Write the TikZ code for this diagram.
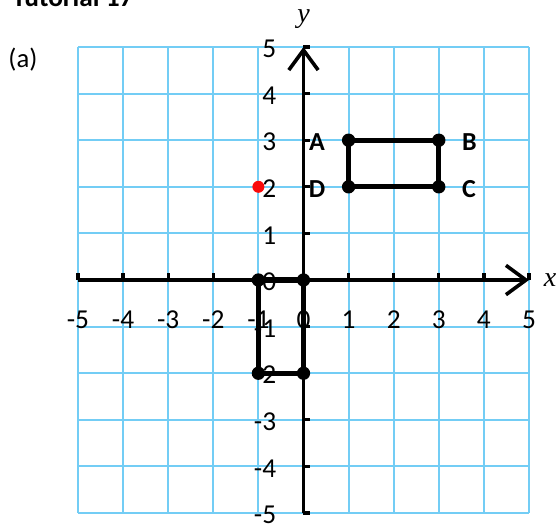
\documentclass[tikz,border=0pt]{standalone}
\usepackage{fontspec}
\setmainfont{Carlito}
\newfontfamily\mathitfont{Liberation Serif}
\usetikzlibrary{arrows.meta}
\definecolor{gridblue}{RGB}{115,205,245}
\definecolor{ptred}{RGB}{250,10,10}
\tikzset{
  gridline/.style={draw=gridblue,line width=1.5pt},
  axisline/.style={draw=black,line width=2.5pt},
  tickmark/.style={draw=black,line width=2.5pt},
  figline/.style={draw=black,line width=3.8pt,line join=round},
  vdot/.style={circle,fill=black,inner sep=0pt,minimum size=10pt},
  reddot/.style={circle,fill=ptred,inner sep=0pt,minimum size=9pt},
  numlbl/.style={font=\fontsize{20.5}{22}\selectfont,inner sep=0pt},
  ptlbl/.style={font=\fontsize{19.5}{22}\selectfont\bfseries,inner sep=0pt},
  axname/.style={font=\fontsize{21}{24}\selectfont\mathitfont\itshape,inner sep=0pt},
  barb/.tip={Straight Barb[length=15pt,width=22pt,line width=2.7pt]}
}
\begin{document}
\begin{tikzpicture}[x=33.825pt,y=34.95pt]
\useasboundingbox (-6.729,-5.236) rectangle (5.643,6.009);
% grid
\foreach \g in {-5,...,5} {
  \draw[gridline] (\g,-5) -- (\g,5);
  \draw[gridline] (-5,\g) -- (5,\g);
}
% axes
\coordinate (xs) at (-5,0);
\coordinate (xe) at (5,0);
\coordinate (ys) at (0,-5);
\coordinate (ye) at (0,5);
\draw[axisline,-barb] (xs) -- (xe);
\draw[axisline,-barb] (ys) -- (ye);
\foreach \t in {-5,-4,-3,-2,1,2,3,4,5}
  \draw[tickmark] (\t,0) -- (\t,0.15);
\foreach \t in {-5,-4,-3,-1,1,2,3,4,5}
  \draw[tickmark] (0,\t) -- (0.15,\t);
% rectangle ABCD
\coordinate (A) at (1,3);
\coordinate (B) at (3,3);
\coordinate (C) at (3,2);
\coordinate (D) at (1,2);
\draw[figline] (A) -- (B) -- (C) -- (D) -- cycle;
\foreach \p in {A,B,C,D} \node[vdot] at (\p) {};
% image rectangle
\coordinate (P) at (-1,0);
\coordinate (Q) at (0,0);
\coordinate (R) at (0,-2);
\coordinate (S) at (-1,-2);
\draw[figline] (P) -- (Q) -- (R) -- (S) -- cycle;
\foreach \p in {P,Q,R,S} \node[vdot] at (\p) {};
% red point
\node[reddot] (red) at (-1,2) {};
% axis numbers
\foreach \t in {-5,...,5}
  \node[numlbl] (xl\t) at (\t,-0.85) {\t};
\foreach \t in {-5,...,5}
  \node[numlbl,anchor=east] (yl\t) at (-0.6,\t-0.04) {\t};
% point labels
\node[ptlbl] (lA) at (0.3,2.96) {A};
\node[ptlbl] (lD) at (0.3,1.96) {D};
\node[ptlbl] (lB) at (3.68,2.96) {B};
\node[ptlbl] (lC) at (3.67,1.96) {C};
% axis names
\node[axname] (ylab) at (0.0,5.6) {y};
\node[axname] (xlab) at (5.47,0.0) {x};
% part label and title
\node[font=\fontsize{20}{24}\selectfont,inner sep=0pt] (part) at (-6.22,4.73) {(a)};
\node[font=\fontsize{20.5}{24}\selectfont\bfseries,inner sep=0pt,anchor=base west] (title) at (-6.463,5.88) {Tutorial 17};
\end{tikzpicture}
\end{document}
